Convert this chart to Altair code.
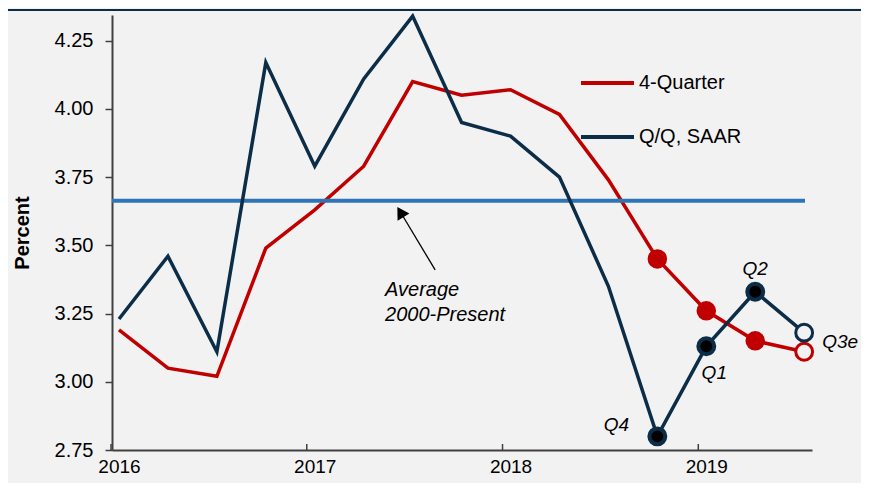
import altair as alt
import pandas as pd

# ---------------- data ----------------
quarters = ["2016Q1", "2016Q2", "2016Q3", "2016Q4",
            "2017Q1", "2017Q2", "2017Q3", "2017Q4",
            "2018Q1", "2018Q2", "2018Q3", "2018Q4",
            "2019Q1", "2019Q2", "2019Q3"]
qq_saar = [3.23, 3.46, 3.11, 4.17, 3.79, 4.11, 4.34, 3.95,
           3.90, 3.75, 3.35, 2.80, 3.13, 3.33, 3.18]
four_quarter = [3.19, 3.05, 3.02, 3.49, 3.63, 3.79, 4.10, 4.05,
                4.07, 3.98, 3.74, 3.45, 3.26, 3.15, 3.11]
point_style = ["none"] * 11 + ["actual", "actual", "actual", "estimate"]
point_label = [""] * 11 + ["Q4", "Q1", "Q2", "Q3e"]
average_2000_present = 3.663
year_labels = ["2016", "2017", "2018", "2019"]
y_ticks = [2.75, 3.00, 3.25, 3.50, 3.75, 4.00, 4.25]
series_names = ["4-Quarter", "Q/Q, SAAR"]
annotation_text = ["Average", "2000-Present"]

RED = "#c00000"
NAVY = "#0c2d48"
AVG_BLUE = "#2e75b6"
BG = "#f2f2f2"
AXIS = "#404040"
FONT = "Liberation Sans"

df = pd.DataFrame({
    "t": list(range(len(quarters))),
    "quarter": quarters,
    "qq": qq_saar,
    "fq": four_quarter,
    "style": point_style,
    "label": point_label,
})

W, H = 700, 435
PAD = {"left": 104, "top": 7, "right": 49, "bottom": 33}
x_scale = alt.Scale(domain=[-0.143, 14.16], nice=False, zero=False)
y_scale = alt.Scale(domain=[2.75, 4.344], nice=False, zero=False)

label_expr = "[" + ",".join("'%s'" % y for y in year_labels) + "][round(datum.value/4)]"
x_axis = alt.Axis(values=[i * 4 for i in range(len(year_labels))], labelExpr=label_expr,
                  ticks=False, grid=False, domainColor=AXIS, domainWidth=2,
                  labelFontSize=19, labelPadding=7, labelColor="#000000",
                  labelFont=FONT)
y_axis = alt.Axis(values=y_ticks, format=".2f", grid=False, domainColor=AXIS,
                  domainWidth=2, tickColor=AXIS, tickSize=7, tickWidth=1.5,
                  labelFontSize=20, labelPadding=12, labelColor="#000000",
                  labelFont=FONT, title="Percent", titleFontSize=20,
                  titleFontWeight="bold", titleFont=FONT, titlePadding=22,
                  titleColor="#000000")


def X(field="t"):
    return alt.X(field + ":Q", scale=x_scale, axis=x_axis, title=None)


def Y(field):
    return alt.Y(field + ":Q", scale=y_scale, axis=y_axis, title="Percent")


base = alt.Chart(df)

# top border line
top_line = base.mark_rule(color=NAVY, strokeWidth=1.5).encode(
    x=alt.value(-PAD["left"]), x2=alt.value(W + PAD["right"]), y=alt.value(-5))

# average line
avg_df = pd.DataFrame({"v": [average_2000_present]})
avg_line = alt.Chart(avg_df).mark_rule(color=AVG_BLUE, strokeWidth=4).encode(
    x=alt.value(0), x2=alt.value(693), y=Y("v"))

# x-axis inward ticks
tick_df = pd.DataFrame({"t": [i * 4 for i in range(len(year_labels))]})
x_ticks = alt.Chart(tick_df).mark_rule(color=AXIS, strokeWidth=1.5, xOffset=-8).encode(
    x=X(), y=alt.value(H), y2=alt.value(H - 6))

red_line = base.mark_line(color=RED, strokeWidth=3.5).encode(x=X(), y=Y("fq"))
navy_line = base.mark_line(color=NAVY, strokeWidth=3.5).encode(x=X(), y=Y("qq"))

red_dots = base.transform_filter("datum.style == 'actual'").mark_point(
    shape="circle", filled=True, color=RED, size=380, opacity=1).encode(x=X(), y=Y("fq"))
red_open = base.transform_filter("datum.style == 'estimate'").mark_point(
    shape="circle", fill=BG, stroke=RED, strokeWidth=3, size=283, opacity=1,
    fillOpacity=1).encode(x=X(), y=Y("fq"))
navy_dots = base.transform_filter("datum.style == 'actual'").mark_point(
    shape="circle", fill="#000000", stroke=NAVY, strokeWidth=4, size=254, opacity=1,
    fillOpacity=1).encode(x=X(), y=Y("qq"))
navy_open = base.transform_filter("datum.style == 'estimate'").mark_point(
    shape="circle", fill=BG, stroke=NAVY, strokeWidth=3, size=283, opacity=1,
    fillOpacity=1).encode(x=X(), y=Y("qq"))

# point labels (offsets from the Q/Q points)
label_offsets = {"Q4": (-41, -5, "center"), "Q1": (8, 33, "center"),
                 "Q2": (0, -17, "center"), "Q3e": (18, 15, "left")}
q_labels = []
for lab, (dx, dy, al) in label_offsets.items():
    q_labels.append(
        base.transform_filter("datum.label == '%s'" % lab).mark_text(
            font=FONT, fontSize=19, fontStyle="italic", color="#000000",
            align=al, baseline="alphabetic", dx=dx, dy=dy).encode(
            x=X(), y=Y("qq"), text="label:N"))

# annotation arrow + text
arrow_df = pd.DataFrame({"t": [6.46], "v": [3.41], "t2": [5.75], "v2": [3.622]})
arrow_shaft = alt.Chart(arrow_df).mark_rule(color="#000000", strokeWidth=1.3).encode(
    x=X(), y=Y("v"), x2="t2:Q", y2="v2:Q")
arrow_head = alt.Chart(arrow_df).mark_point(
    shape="triangle-up", filled=True, color="#000000", size=190, angle=329,
    opacity=1).encode(x=X("t2"), y=Y("v2"))
ann_df = pd.DataFrame({"t": [5.436], "v": [3.313], "txt": ["\n".join(annotation_text)]})
ann_text = alt.Chart(ann_df).mark_text(
    font=FONT, fontSize=20, fontStyle="italic", color="#000000", align="left",
    baseline="alphabetic", lineBreak="\n", lineHeight=25).encode(
    x=X(), y=Y("v"), text="txt:N")

# custom legend
legend_layers = []
for i, (name, col) in enumerate(zip(series_names, [RED, NAVY])):
    yy = 68 + 54 * i
    legend_layers.append(base.mark_rule(color=col, strokeWidth=4).encode(
        x=alt.value(469), x2=alt.value(522), y=alt.value(yy)))
    legend_layers.append(alt.Chart(pd.DataFrame({"n": [name]})).mark_text(
        font=FONT, fontSize=20, color="#000000", align="left",
        baseline="middle").encode(x=alt.value(527), y=alt.value(yy), text="n:N"))

chart = alt.layer(
    red_line, avg_line, x_ticks, top_line, red_dots, red_open,
    navy_line, navy_dots, navy_open, arrow_shaft, arrow_head, ann_text,
    *q_labels, *legend_layers
).properties(
    width=W, height=H,
    padding=PAD,
    autosize=alt.AutoSizeParams(type="none"),
    background=BG,
).configure_view(stroke=None)

chart.save("out.html", embed_options={"renderer": "svg", "actions": False})
